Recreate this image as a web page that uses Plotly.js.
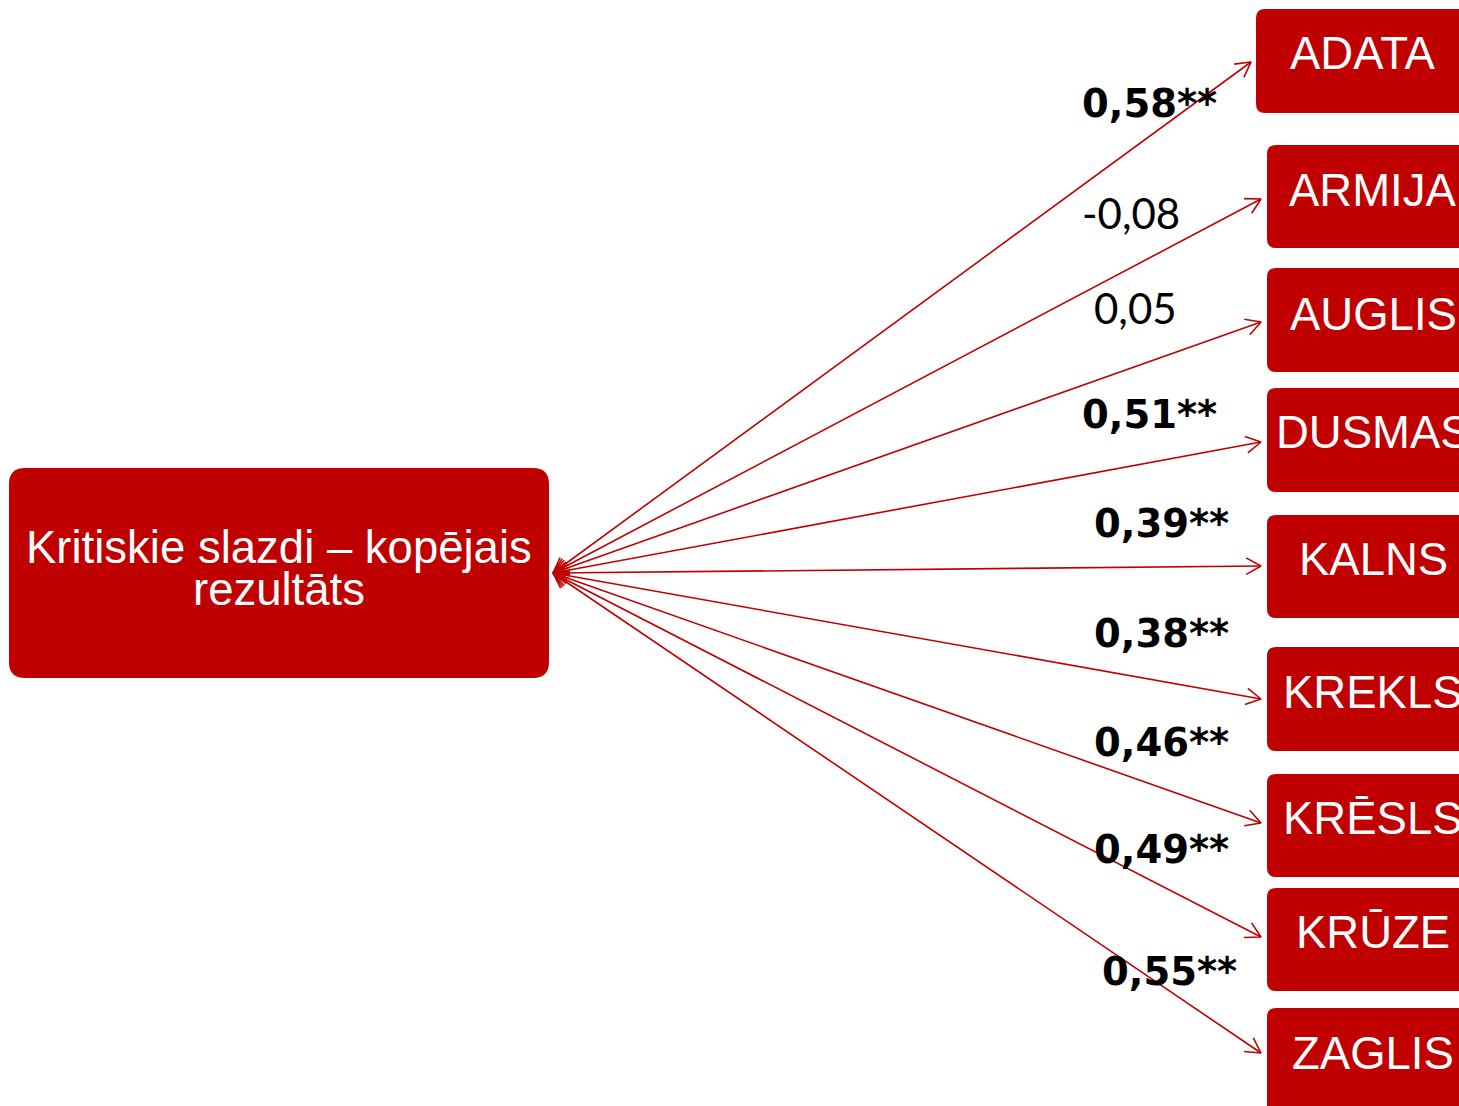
<!DOCTYPE html>
<html><head><meta charset="utf-8">
<script src="https://cdn.plot.ly/plotly-3.0.1.min.js"></script>
<style>html,body{margin:0;padding:0;background:#fff;overflow:hidden}</style>
</head><body><div id="chart" style="width:1459px;height:1106px"></div>
<script>
// ---- data ----
const sourceLines = ['Kritiskie slazdi – kopējais', 'rezultāts'];
const targets = ['ADATA', 'ARMIJA', 'AUGLIS', 'DUSMAS', 'KALNS', 'KREKLS', 'KRĒSLS', 'KRŪZE', 'ZAGLIS'];
const coefficients = [0.58, -0.08, 0.05, 0.51, 0.39, 0.38, 0.46, 0.49, 0.55];
const significance = ['**', '', '', '**', '**', '**', '**', '**', '**'];

// ---- layout geometry (pixel space of the diagram) ----
const boxTop = [9, 145, 268, 388, 515, 647, 774, 888, 1008];
const boxBottom = [113, 248, 372, 492, 618, 751, 877, 991, 1140];
const boxLeft = [1256, 1267, 1267, 1267, 1267, 1267, 1267, 1267, 1267];
const textX = [1363, 1373, 1373, 1373, 1373, 1373, 1373, 1373, 1373];
const textY = [53, 190, 314, 432, 559, 692, 818, 932, 1053];
const tipX = [1251, 1261, 1261, 1261, 1261, 1261, 1261, 1261, 1261];
const tipY = [62, 199, 322, 442, 566, 699, 823, 937, 1053];
const labelX = [1080, 1080, 1092, 1080, 1092, 1092, 1092, 1092, 1100];
const labelY = [103, 213, 308, 414, 523, 633, 742, 849, 971];
const hub = {x: 553, y: 573};
const srcBox = {x0: 9, y0: 468, x1: 549, y1: 678, r: 16};

const RED = '#C00000';

function roundRect(x0, y0, x1, y1, r) {
  return `M${x0 + r},${y0} L${x1 - r},${y0} Q${x1},${y0} ${x1},${y0 + r} L${x1},${y1 - r} Q${x1},${y1} ${x1 - r},${y1} L${x0 + r},${y1} Q${x0},${y1} ${x0},${y1 - r} L${x0},${y0 + r} Q${x0},${y0} ${x0 + r},${y0} Z`;
}

const shapes = [];
shapes.push({type: 'path', xref: 'x', yref: 'y', path: roundRect(srcBox.x0, srcBox.y0, srcBox.x1, srcBox.y1, srcBox.r), fillcolor: RED, line: {width: 0}, layer: 'below'});
targets.forEach((t, i) => {
  shapes.push({type: 'path', xref: 'x', yref: 'y', path: roundRect(boxLeft[i], boxTop[i], 1500, boxBottom[i], 9), fillcolor: RED, line: {width: 0}, layer: 'below'});
});

// arrow lines with open V heads at both ends
const lx = [], ly = [];
function head(tx, ty, fx, fy) {
  const ang = Math.atan2(fy - ty, fx - tx);
  const L = 17, a = Math.PI / 6.2;
  lx.push(tx + L * Math.cos(ang + a), tx, tx + L * Math.cos(ang - a), null);
  ly.push(ty + L * Math.sin(ang + a), ty, ty + L * Math.sin(ang - a), null);
}
targets.forEach((t, i) => {
  lx.push(hub.x, tipX[i], null);
  ly.push(hub.y, tipY[i], null);
  head(tipX[i], tipY[i], hub.x, hub.y);
  head(hub.x, hub.y, tipX[i], tipY[i]);
});

const traces = [{
  x: lx, y: ly, type: 'scatter', mode: 'lines',
  line: {color: RED, width: 1.6}, hoverinfo: 'skip', showlegend: false
}];

const annotations = [];
const srcY = [547, 589];
sourceLines.forEach((s, k) => {
  annotations.push({x: 279, y: srcY[k], xref: 'x', yref: 'y', text: s, showarrow: false,
    xanchor: 'center', yanchor: 'middle',
    font: {family: 'Liberation Sans, Arial, sans-serif', size: 45.5, color: '#FFFFFF'}});
});
targets.forEach((t, i) => {
  annotations.push({x: textX[i], y: textY[i], xref: 'x', yref: 'y', text: t, showarrow: false,
    xanchor: 'center', yanchor: 'middle',
    font: {family: 'Liberation Sans, Arial, sans-serif', size: 45.5, color: '#FFFFFF'}});
  const txt = coefficients[i].toFixed(2).replace('.', ',') + significance[i];
  const bold = significance[i] !== '';
  annotations.push({x: labelX[i], y: labelY[i], xref: 'x', yref: 'y',
    text: bold ? '<b>' + txt + '</b>' : txt, showarrow: false,
    xanchor: 'left', yanchor: 'middle',
    font: bold ? {family: 'DejaVu Sans, sans-serif', size: 38.5, color: '#000000'}
               : {family: 'Lato, Carlito, sans-serif', size: 42, color: '#000000'}});
});

const layout = {
  width: 1459, height: 1106,
  margin: {l: 0, r: 0, t: 0, b: 0},
  paper_bgcolor: '#FFFFFF', plot_bgcolor: '#FFFFFF',
  xaxis: {range: [0, 1459], visible: false, fixedrange: true},
  yaxis: {range: [1106, 0], visible: false, fixedrange: true},
  shapes: shapes, annotations: annotations, showlegend: false
};
Plotly.newPlot('chart', traces, layout, {staticPlot: true, displayModeBar: false});
</script></body></html>
